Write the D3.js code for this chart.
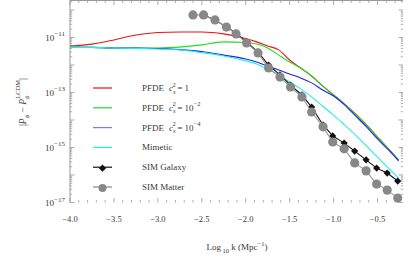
<!DOCTYPE html>
<html><head><meta charset="utf-8">
<script src="https://cdn.jsdelivr.net/npm/d3@7"></script>
<style>
body{margin:0;background:#fff}
svg{display:block}
text{font-family:"Liberation Serif","DejaVu Serif",serif;fill:#3a3a3a}
</style>
</head><body>
<svg id="c" width="415" height="260"></svg>
<script>
// ---- data (log10 k, log10 |P_phi - P_phi^LCDM|) ----
const logk = [-4.0,-3.75,-3.5,-3.25,-3.0,-2.75,-2.5,-2.25,-2.0,-1.875,-1.75,-1.625,-1.5,-1.375,-1.25,-1.125,-1.0,-0.875,-0.75,-0.625,-0.5,-0.375,-0.26];
const pfde1   = [-11.31,-11.24,-11.09,-10.91,-10.82,-10.80,-10.80,-10.87,-11.04,-11.16,-11.31,-11.45,-11.82,-12.11,-12.40,-12.76,-13.09,-13.42,-13.78,-14.18,-14.62,-15.05,-15.45];
const pfde2   = [-11.35,-11.36,-11.38,-11.38,-11.38,-11.35,-11.27,-11.16,-11.18,-11.24,-11.38,-11.64,-11.89,-12.11,-12.40,-12.76,-13.09,-13.42,-13.78,-14.18,-14.62,-15.05,-15.45];
const pfde4   = [-11.36,-11.36,-11.38,-11.38,-11.40,-11.44,-11.51,-11.64,-11.78,-11.89,-12.04,-12.18,-12.33,-12.47,-12.65,-12.91,-13.13,-13.45,-13.85,-14.25,-14.69,-15.09,-15.49];
const mimetic = [-11.36,-11.36,-11.38,-11.40,-11.42,-11.45,-11.55,-11.67,-11.85,-11.96,-12.15,-12.36,-12.62,-12.87,-13.16,-13.49,-13.82,-14.18,-14.55,-14.95,-15.35,-15.75,-16.11];
const simK      = [-2.60,-2.48,-2.35,-2.22,-2.11,-1.99,-1.86,-1.74,-1.61,-1.49,-1.36,-1.25,-1.12,-1.01,-0.88,-0.76,-0.63,-0.51,-0.39,-0.27];
const simMatter = [-10.18,-10.18,-10.36,-10.62,-10.87,-11.20,-11.56,-12.11,-12.44,-12.80,-13.16,-13.71,-14.25,-14.80,-15.05,-15.56,-15.85,-16.33,-16.55,-16.84];
const simGalK   = [-2.48,-2.35,-2.22,-2.11,-1.99,-1.86,-1.74,-1.61,-1.49,-1.36,-1.25,-1.12,-1.01,-0.88,-0.76,-0.63,-0.51,-0.39,-0.27];
const simGalaxy = [-10.18,-10.36,-10.62,-10.84,-11.16,-11.53,-12.00,-12.36,-12.73,-13.09,-13.53,-14.18,-14.58,-14.84,-15.13,-15.45,-15.75,-15.93,-16.22];
const xTicks = [-4.0,-3.5,-3.0,-2.5,-2.0,-1.5,-1.0,-0.5];
const yLabelExps = [-11,-13,-15,-17];
const legendNames = ["PFDE","PFDE","PFDE","Mimetic","SIM Galaxy","SIM Matter"];
const legendCs = ["1","10","10",null,null,null];
const legendCsExp = [null,"\u22122","\u22124",null,null,null];
const colors = ["#ee1111","#22dd22","#2020e8","#22eeee","#111111","#888888"];

// ---- layout ----
const svg = d3.select("#c");
const L=70, R=403, T=0.5, B=202.5;
const x = d3.scaleLinear().domain([-4,-0.21]).range([L,R]);
const y = d3.scaleLog().domain([1e-17, Math.pow(10,-9.655)]).range([B,T]);
const frame = "#999";

svg.append("line").attr("x1",L).attr("x2",L).attr("y1",T).attr("y2",B).attr("stroke",frame).attr("stroke-width",1);
svg.append("line").attr("x1",L).attr("x2",R).attr("y1",T).attr("y2",T).attr("stroke",frame).attr("stroke-width",1);

const xMinor = d3.range(-4,-0.2,0.1).map(v=>+v.toFixed(2));
xMinor.forEach(v=>{
  const major = Math.abs(v*2-Math.round(v*2))<1e-6;
  const len = major?4.5:2.5;
  svg.append("line").attr("x1",x(v)).attr("x2",x(v)).attr("y1",B).attr("y2",B-len).attr("stroke",frame).attr("stroke-width",0.8);
  svg.append("line").attr("x1",x(v)).attr("x2",x(v)).attr("y1",T).attr("y2",T+len).attr("stroke",frame).attr("stroke-width",0.8);
});
const fmt = v => (v<0?"\u2212":"")+Math.abs(v).toFixed(1);
svg.selectAll(".xl").data(xTicks).enter().append("text").attr("x",d=>x(d)).attr("y",221.5)
  .attr("text-anchor","middle").attr("font-size",8.5).text(fmt);

for(let e=-17;e<=-10;e++){
  for(let m=1;m<=9;m++){
    const v=m*Math.pow(10,e);
    if(v<1e-17||v>Math.pow(10,-9.655)) continue;
    const len = m===1?4.5:2.2;
    svg.append("line").attr("x1",L).attr("x2",L+len).attr("y1",y(v)).attr("y2",y(v)).attr("stroke",frame).attr("stroke-width",0.8);
    svg.append("line").attr("x1",R).attr("x2",R-len).attr("y1",y(v)).attr("y2",y(v)).attr("stroke",frame).attr("stroke-width",0.8);
  }
}
yLabelExps.forEach(e=>{
  const t = svg.append("text").attr("x",L-5).attr("y",y(Math.pow(10,e))+3.5).attr("text-anchor","end").attr("font-size",9);
  t.append("tspan").text("10");
  t.append("tspan").attr("dy",-4.5).attr("font-size",7).text("\u2212"+Math.abs(e));
});

const line = d3.line().x(d=>x(d[0])).y(d=>y(Math.pow(10,d[1]))).curve(d3.curveMonotoneX);
const series=[pfde1,pfde2,pfde4,mimetic];
const g = svg.append("g");
[0,1,2,3].forEach(i=>{
  g.append("path").attr("d",line(logk.map((k,j)=>[k,series[i][j]]))).attr("fill","none")
   .attr("stroke",colors[i]).attr("stroke-width",1.1);
});
const diamond = d3.symbol().type(d3.symbolSquare).size(26);
const lin = d3.line().x(d=>x(d[0])).y(d=>y(Math.pow(10,d[1])));
g.append("path").attr("d",lin(simGalK.map((k,j)=>[k,simGalaxy[j]]))).attr("fill","none").attr("stroke",colors[4]).attr("stroke-width",1.1);
g.selectAll(".gd").data(simGalK).enter().append("path")
  .attr("d",diamond)
  .attr("transform",(d,j)=>`translate(${x(d)},${y(Math.pow(10,simGalaxy[j]))}) rotate(45)`).attr("fill",colors[4]);
g.append("path").attr("d",lin(simK.map((k,j)=>[k,simMatter[j]]))).attr("fill","none").attr("stroke","#999").attr("stroke-width",1.1);
g.selectAll(".md").data(simK).enter().append("circle")
  .attr("cx",d=>x(d)).attr("cy",(d,j)=>y(Math.pow(10,simMatter[j]))).attr("r",4.6).attr("fill",colors[5]);

const ly0=88, ldy=19.8;
legendNames.forEach((n,i)=>{
  const yy=ly0+i*ldy;
  svg.append("line").attr("x1",93).attr("x2",112).attr("y1",yy).attr("y2",yy).attr("stroke",i===2?"#7777ff":colors[i]).attr("stroke-width",1.2);
  if(i===4) svg.append("path").attr("d",diamond).attr("transform",`translate(102.5,${yy+1}) rotate(45)`).attr("fill",colors[4]);
  if(i===5) svg.append("circle").attr("cx",102.5).attr("cy",yy+1).attr("r",4).attr("fill",colors[5]);
  const t=svg.append("text").attr("x",142).attr("y",yy+3).attr("font-size",9);
  t.append("tspan").text(n);
  if(legendCs[i]!==null){
    t.append("tspan").attr("x",169).attr("font-style","italic").text("c");
    t.append("tspan").attr("dy",2.5).attr("font-size",6.5).attr("font-style","italic").text("s");
    t.append("tspan").attr("dx",-3).attr("dy",-7).attr("font-size",6.5).text("2");
    t.append("tspan").attr("dy",4.5).text("\u2009=\u2009"+legendCs[i]);
    if(legendCsExp[i]) t.append("tspan").attr("dy",-4.5).attr("font-size",6.5).text(legendCsExp[i]);
  }
});

const xt = svg.append("text").attr("x",237).attr("y",250).attr("text-anchor","middle").attr("font-size",9);
xt.append("tspan").text("Log");
xt.append("tspan").attr("dy",2.5).attr("font-size",6.5).text(" 10");
xt.append("tspan").attr("dy",-2.5).text(" k (Mpc");
xt.append("tspan").attr("dy",-4).attr("font-size",6.5).text("\u22121");
xt.append("tspan").attr("dy",4).text(")");

const yt = svg.append("text").attr("transform","translate(26,102) rotate(-90)").attr("text-anchor","middle").attr("font-size",9.5);
yt.append("tspan").text("|");
yt.append("tspan").attr("font-style","italic").text("P");
yt.append("tspan").attr("dy",2.5).attr("font-size",6.5).attr("font-style","italic").text("\u03d5");
yt.append("tspan").attr("dy",-2.5).text(" \u2212 ");
yt.append("tspan").attr("font-style","italic").text("P");
yt.append("tspan").attr("dy",2.5).attr("font-size",6.5).attr("font-style","italic").text("\u03d5");
yt.append("tspan").attr("dx",-3).attr("dy",-9).attr("font-size",6.5).text("LCDM");
yt.append("tspan").attr("dy",6.5).text("|");
</script>
</body></html>
